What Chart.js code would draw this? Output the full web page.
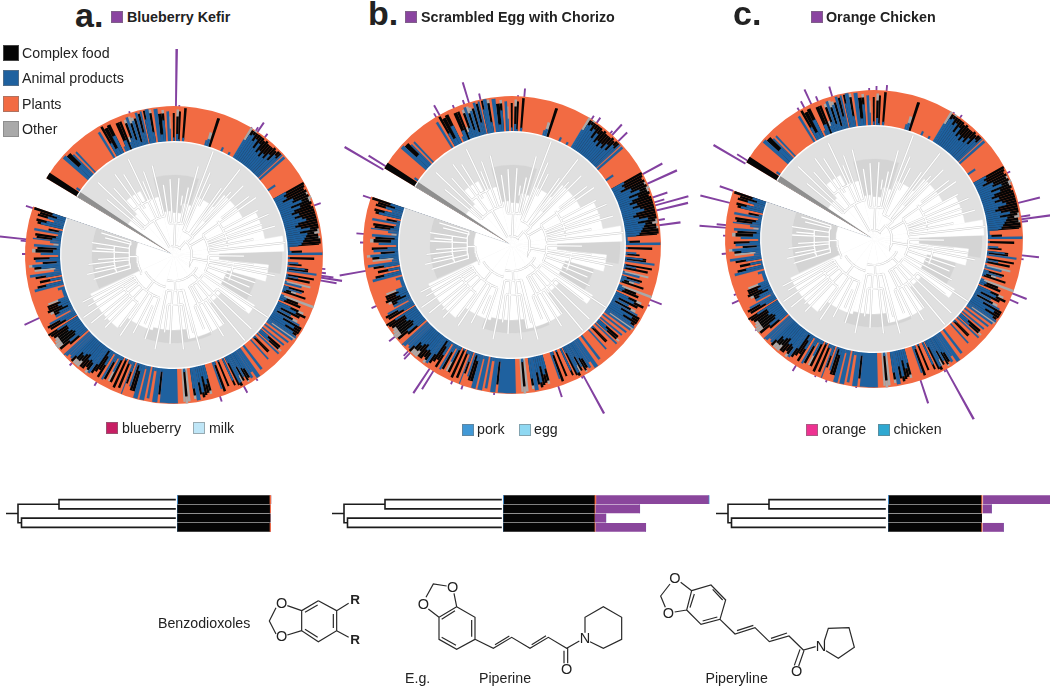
<!DOCTYPE html>
<html lang="en">
<head>
<meta charset="UTF-8">
<title>Food phylogeny panels</title>
<script src="https://cdn.jsdelivr.net/npm/chart.js"></script>
<style>
  html, body { margin: 0; background: #fff; }
  body { width: 1050px; height: 686px; position: relative; overflow: hidden; font-family: "Liberation Sans", Arial, sans-serif; color: #222; }
  canvas { position: absolute; }
  .t { position: absolute; white-space: nowrap; line-height: 1; transform: translateY(-50%); }
  .c { transform: translate(-50%, -50%); }
  .sw { position: absolute; box-sizing: border-box; border: 1px solid rgba(120,120,120,.55); }
</style>
</head>
<body>
<script>
// ring of each circular panel: bearing where a run starts and the radial share of blue, black, grey (rest is orange)
const ringFrom = [
  301,303.5,304,305,311,312.5,314.5,315.2,316,316.8,328,329,
  330,331,332.5,334,335,336,337.5,338.5,339.5,340.5,341.5,342.5,343.5,344.5,345.5,346.5,347.2,347.8,348.6,350,351,
  352,353.5,355,356,357,358,358.5,359.5,0.3,1,2,2.8,4,5,15.4,16.2,17.5,18.7,24,25,28,29,
  31,32,33,34,35,36,37,38,39,40,41,42,43,44,45,46,46.8,47.5,48,49,55,56,
  60.5,61.5,62.5,63.5,64.5,65.5,66.5,67.5,68.5,69.5,70.5,71.5,72.5,73.5,74.5,75.5,76.5,77.5,78.5,79.5,80.5,81.5,82.5,83.5,84.5,85.5,
  86,88,89,90,91,92,93.5,94.3,95,96,96.7,97.5,98.3,99.5,100.3,101,102,103,103.8,104.6,105.5,106.3,107,108,108.8,110,111,
  112,113,114,115,116,117,118,119,119.7,120.7,121.7,122.7,123.7,124.5,125.2,126,127,127.8,129,129.7,130.5,131.5,132.3,133,133.7,135,135.5,136.3,137.5,138.2,142,143,
  144.5,146,147,148,149,149.8,150.5,151.3,152,153,153.8,154.5,155.3,157,157.8,159,160,160.7,163,164.5,165.5,166.5,167.5,168.5,169.5,171,172,
  173.5,174.5,175.5,176.3,178.5,185.5,186.5,188.5,189.8,190.8,191.7,193.5,194.3,196,197.2,198.2,198.9,199.8,200.6,
  201,202,203,204,205,206,207,207.8,208.7,209.7,210.5,211.5,212.5,213.5,214.5,215.5,
  216.5,217.5,218.5,219.5,220.5,221.5,222.5,223.5,224.5,225.5,226.5,227.5,228,229,230,231,232,233,234,235,236,237,237.7,238.5,239.5,240.5,241.3,
  242,243,244,245,246,247,248,249,253,254,255,256,257,258,259,260,261,262,263,264,265,266,267,268,269,270,271,272.5,273.5,274.5,275.5,276.5,
  277,278,279,280,281,282,283,284,285,286,287,288,289
];
const ringBlue = [
  0,0,.12,0,.95,.45,.8,0,.8,0,.85,0,
  .4,.2,.55,0,.15,.3,0,.2,.3,.9,.2,.75,.1,.95,.35,.95,0,.7,.98,.3,0,
  .95,.2,.6,0,.85,.35,0,.1,0,.2,.05,0,.1,0,.15,.2,0,0,.12,0,.08,0,
  .6,.8,.85,.7,.8,.55,.75,.5,.6,.45,.6,.5,.7,.55,.8,.75,.95,0,.95,0,.25,0,
  .4,.3,.35,.2,.5,.45,.7,.35,.6,.4,.3,.5,.35,.55,.65,.4,.3,.45,.7,.4,.6,.55,.5,.45,.4,.3,
  .05,.1,.98,0,.05,0,.3,.05,0,.5,.05,.85,0,.05,.35,.05,0,.05,.5,0,.15,.55,.1,.05,0,.1,.2,
  .15,0,.4,.6,.15,.5,.1,.85,.35,.75,.5,.8,.95,.15,.9,0,.85,0,.8,0,.3,.4,0,.85,0,.1,.05,0,.75,0,.85,0,
  .98,.75,.9,.55,.5,.75,.4,.65,.85,.2,0,.7,0,.05,0,.1,.8,0,0,.4,.55,.3,.75,.45,.95,.6,0,
  0,.1,0,0,.98,.1,.98,.1,.9,0,.98,.1,.98,.2,.05,.7,0,.3,.98,
  .1,.1,0,.05,0,.1,.5,.1,.25,.85,.05,.45,.2,.05,.55,.9,
  .6,.55,.6,.45,.5,.6,.55,.75,.9,.85,.95,.98,0,.3,.6,.35,.3,.35,.45,.4,.4,.7,0,.35,.5,.8,.1,
  .55,.4,.1,.25,.35,.25,.3,.1,.2,0,.85,.5,.05,.35,0,.45,.9,.2,.15,.55,.8,.1,.7,.3,.05,.55,.2,.1,.75,.05,.3,.8,
  .25,.15,.1,.8,.1,0,.65,.5,.3,.5,.25,.4,0
];
const ringBlack = [
  1,0,0,0,0,.45,0,0,0,0,0,0,
  .55,.65,.35,0,0,.55,.85,0,.45,0,.5,0,.7,0,.55,0,0,.25,0,.55,0,
  0,.6,.2,0,0,0,0,.7,0,.5,.8,0,.85,0,0,0,.85,0,0,0,0,0,
  0,.15,.1,.25,.15,.4,.2,.4,.35,.45,.3,.4,.25,.35,.15,.2,0,0,0,0,0,0,
  .58,.65,.55,.75,.4,.5,.2,.55,.35,.5,.65,.45,.6,.4,.3,.55,.65,.5,.25,.5,.2,.35,.4,.5,.55,.6,
  0,.3,0,0,.7,0,0,.35,0,.1,.55,0,0,.75,0,.65,0,0,0,0,.45,0,.15,.65,0,0,.35,
  .5,0,.25,.3,.6,0,.5,0,.6,.2,.45,.12,0,0,0,0,0,0,0,0,.45,.35,0,0,0,.5,.55,0,0,0,0,0,
  0,0,0,.3,.4,0,.45,0,.1,.7,0,.15,0,.75,0,.8,0,0,0,.35,.25,.55,.15,.35,0,.2,0,
  0,.7,0,0,0,.65,0,0,0,0,0,0,0,.6,.75,0,0,.35,0,
  0,.75,0,.85,0,.7,0,0,.55,0,0,.4,.45,.7,.3,0,
  .25,.25,.3,.45,.25,.2,.25,.2,0,0,0,0,0,.35,.35,.45,.5,.45,.35,.5,.55,.3,0,.5,.4,0,0,
  0,.15,.45,.45,.3,.4,0,0,0,0,0,.25,0,.3,0,.3,0,0,0,.2,0,.4,0,.45,0,0,.5,.55,0,0,0,0,
  .45,.6,0,0,.3,0,.1,.3,0,.3,.5,.55,0
];
const ringGrey = [
  0,0,0,0,0,0,0,0,0,0,0,0,
  0,0,0,0,0,0,0,.15,.1,0,.2,.1,0,0,0,0,0,0,0,.1,0,
  0,0,.1,0,0,.35,0,0,0,.2,0,0,0,0,0,.2,0,0,0,0,0,0,
  .4,0,.05,0,0,0,0,0,0,0,0,0,0,0,0,0,0,0,0,0,0,0,
  0,0,0,0,.05,0,.1,.05,0,0,0,0,0,0,0,0,0,0,0,.05,.15,0,.05,0,0,0,
  0,0,0,0,0,0,0,0,0,0,0,0,0,0,0,0,0,.7,0,0,0,0,.15,0,0,.9,0,
  0,0,.15,0,0,0,.15,0,0,0,0,0,0,.8,0,0,0,0,0,0,0,.1,0,0,0,0,0,0,0,0,0,0,
  0,0,0,0,.05,0,0,.2,0,0,0,0,0,0,0,0,0,0,0,.1,0,0,0,0,0,.1,0,
  .95,.2,.95,0,0,0,0,0,0,0,0,0,0,0,0,0,0,0,0,
  0,0,0,0,0,0,.3,0,0,0,0,0,0,0,0,0,
  .1,0,0,0,.2,.15,.15,0,0,0,0,0,0,0,0,.2,.2,.15,.1,0,0,0,0,0,0,0,0,
  0,0,.1,0,0,0,.3,0,0,0,0,0,0,0,0,0,0,0,.6,0,.1,0,0,0,0,0,.1,0,0,.15,0,0,
  0,0,0,0,0,0,0,0,0,0,0,0,0
];

// purple spikes: bearing and radius of the tip
const spikeAngleA = [288,342.3,0.4,1.7,31,33,33.8,37.3,70.2,95,96.5,97.7,98.4,99.5,146,151.6,161.6,211,223,244.6,270,275,275.5];
const spikeTipA   = [156,150.5,206,150,149.5,153,160,153,155.6,152,153,161,170,165,151,156,154,153,152,165,152,154,175];
const spikeAngleB = [288,300,301.6,329,330.5,336.7,340.9,342.8,347.4,2,4.4,32,34.4,41,42,45.3,61.2,65.3,71,73,74.2,76.2,80,82,111.3,113.5,151,151.6,161.5,186.5,199,203.3,211.6,213.3,223,224,231.6,245.4,259.6,270.6,273.9];
const spikeTipB   = [157,194,169,153,160,152,153,170,155,150,157,153,155,152,163,161,171,181,164,159,183,181,155,170,161,150.5,192,151,160,151,153,152,170,178,157,155,156,154,175,152,156];
const spikeAngleC = [300,301.4,329.4,331.7,334.7,337.5,343.3,357.8,0.6,4.5,32,35,63.3,75.6,81,82,83,96,97.4,111.1,113.7,150.7,151,161.4,186.5,198.2,202.8,211.3,232,245.2,247.8,264,270.9,274,275,283.7,288.5];
const spikeTipC   = [186,161,152,156,165,154,159,151,153,154.5,150,152,152,171,158,178,155,166,151,164,158,206,151,173,150,151,150,155,150,156,151,153,151,175,158,179,163];

// white centre of the grey disc by bearing
const coreFrom = [301,304,318,332,345,358,10,20,40,62,80,88,96,106,122,128,145,170,196,218,245,289];
const coreR    = [4,55,72,60,44,42,52,62,78,92,110,45,95,55,95,60,85,75,78,92,38,0];

// darker grey band of the disc by bearing
const shadeFrom = [301,345,18,88,100,105,125,155,200,246,289];
const shadeR    = [0,80,0,108,0,85,0,88,0,82,0];

// tree branches: spokes (bearing, from, to) and connecting arcs (radius, from, to)
const treeAngle = [334.5,323.8,313.7,309.6,340,346.3,330, 351.4,357,3.7,12,15.3,2, 20.7,23.6,35.3,37.6,45,47,40, 55,66.7,74,83.7,70.7,78.8,60, 101.7,98.6,108.9,117.8,91,100, 123.6,133.7,140.4,148.6,154,135, 164.6,166,174.3,182.6,191.4,178, 199,207.6,213.7,223.5,230.6,235.4,242.7,239.2,218, 257.5,253.2,263.8,266.7,272.8,278.5,287,284,268, 318,328,337,8,27,42,52,62,97,113,128,144,158,170,187,203,217,227,260,275];
const treeFrom  = [40,40,40,40,40,40,9, 32,32,32,32,32,9, 26,26,26,26,26,18,9, 35,35,35,35,35,35,18, 35,35,35,35,35,18, 35,35,35,35,35,26, 36,36,36,36,36,26, 45,45,45,45,45,45,45,45,33, 45,45,45,45,45,45,45,45,37, 60,55,60,50,55,45,60,55,55,55,55,55,55,50,50,55,60,60,60,60];
const treeTo    = [106,100,105,87,89,92,40, 71,76,77,69,92,32, 111,90,82,108,98,26,18, 100,103,105,112,93,81,35, 103,95,86,88,70,35, 113,107,111,95,86,35, 98,80,95,89,96,36, 89,88,97,100,107,110,103,100,45, 89,84,86,76,82,83,76,71,45, 90,95,80,60,80,85,95,95,80,82,90,85,80,85,78,75,90,95,80,78];
const arcRadius = [9,18,26,33,37,40,32,26,35,35,35,36,45,45,60,55,60,55,50,60,60];
const arcFrom   = [345,40,118,195,240,309.6,351.4,20.7,55,91,123.6,164.6,199,253.2,318,52,97,128,170,217,253];
const arcTo     = [400,118,195,240,268,346.3,375.3,47,83.7,117.8,154,191.4,242.7,287,337,74,113,158,187,239,278];

// bottom strips: bar lengths per tip, top row first
const rowLabels = ['tip 1','tip 2','tip 3','tip 4'];
const stripStartA = [0.7,0,0,0];
const stripBlackA = [91.6,92.6,93,92.4];
const stripOrangeA = [1.5,1,0,1.2];
const stripGapA = [0,0,0,0];
const stripPurpleA = [0,0,0,0];
const stripEndA = [0,0,0,0];
const stripStartB = [0.7,0,0,0];
const stripBlackB = [90.6,91.3,91.3,91.3];
const stripOrangeB = [1.5,0.8,0.4,0.8];
const stripGapB = [0.6,0.6,0.6,0.6];
const stripPurpleB = [112,44,10.5,50];
const stripEndB = [0.7,0,0,0];
const stripStartC = [0.7,0,0,0];
const stripBlackC = [92.3,93,93.6,93];
const stripOrangeC = [1.2,1,0,1];
const stripGapC = [1.2,1,0,1];
const stripPurpleC = [70,8.5,0,20.5];
const stripEndC = [0,0,0,0];

// dendrogram in front of the strips, x is branch depth, y is the row
const dendroX = [0,12,null,12,12,null,12,53,null,53,53,null,53,169,null,53,169,null,12,15.5,null,15.5,15.5,null,15.5,169,null,15.5,169];
const dendroY = [1.5,1.5,null,.5,2.5,null,.5,.5,null,0,1,null,0,0,null,1,1,null,2.5,2.5,null,2,3,null,2,2,null,3,3];

// molecule outlines, in drawing units of the structure charts
const benzoX = [535,590,590,535,485,485,535,null,495,533,null,580,580,null,495,533,null,485,442,null,408,388,408,null,442,485,null,590,626,null,590,626];
const benzoY = [122,152,212,245,212,152,122,null,157,135,null,162,204,null,208,232,null,152,137,null,143,183,222,null,225,212,null,152,130,null,212,232];
const piperineX = [950,1005,1005,950,897,897,950,null,905,945,null,995,995,null,905,948,null,897,865,null,950,942,null,858,880,920,null,1005,1060,1115,1170,1225,1280,1318,null,1065,1108,null,1175,1218,null,1283,1283,null,1272,1272,null,1335,1335,1390,1445,1445,1390,1350];
const piperineY = [140,172,238,268,238,172,140,null,178,152,null,180,230,null,232,256,null,172,147,null,140,100,null,112,72,78,null,238,265,232,265,232,265,243,null,254,228,null,254,227,null,265,310,null,272,310,null,218,172,140,172,238,265,245];
const piperylineX = [155,213,257,240,183,140,155,null,150,163,null,218,248,null,188,232,null,155,122,null,140,104,null,90,62,76,null,240,285,345,388,447,490,527,null,291,340,null,393,441,null,492,476,null,480,463,null,553,565,627,643,595,558];
const piperylineY = [92,75,120,178,193,150,92,null,143,102,null,88,120,null,183,171,null,92,67,null,150,156,null,72,108,142,null,178,222,203,245,228,270,260,null,212,196,null,235,219,null,272,318,null,268,316,null,243,205,203,262,295,272];

const BLUE = '#1f619f', ORANGE = '#f26b43', BLACK = '#050505', GREY = '#a9a9a9', PURPLE = '#8341a0', DISC = '#e0e0e0', SHADE = '#d4d4d4';
const RING_IN = 114, RING_OUT = 149, START = 301;

function addCanvas(left, top, w, h) {
  const c = document.createElement('canvas');
  c.width = w; c.height = h;
  c.style.left = left + 'px'; c.style.top = top + 'px';
  c.style.width = w + 'px'; c.style.height = h + 'px';
  document.body.appendChild(c);
  return c;
}
function spans(from) {
  return from.map((a, i) => i === from.length - 1 ? (START - a + 360) % 360 : (from[i + 1] - a + 360) % 360);
}
function radial(data, span, color, edge) {
  return { data, angle: ctx => span[ctx.dataIndex], backgroundColor: color, borderColor: color, borderWidth: edge };
}
// each spike is one thin slice, with an empty slice up to the next one
function spikeSeries(angles, tips) {
  const order = angles.map((a, i) => [(a - START + 360) % 360, tips[i]]).sort((p, q) => p[0] - q[0]);
  const width = 0.7, data = [], span = [];
  let at = 0;
  order.forEach(([a, r]) => {
    data.push(0); span.push(Math.max(a - at, 0.01));
    data.push(r); span.push(width);
    at = Math.max(a, at) + width;
  });
  data.push(0); span.push(Math.max(360 - at, 0.01));
  return { data, span };
}
function points(xs, ys) {
  return xs.map((x, i) => x === null ? { x: NaN, y: NaN } : { x, y: ys[i] });
}
function treePoints() {
  const pts = [];
  const put = (a, r) => pts.push({ x: r * Math.sin(a * Math.PI / 180), y: r * Math.cos(a * Math.PI / 180) });
  treeAngle.forEach((a, i) => { put(a, treeFrom[i]); put(a, treeTo[i]); pts.push({ x: NaN, y: NaN }); });
  arcRadius.forEach((r, i) => {
    for (let a = arcFrom[i]; a < arcTo[i]; a += 3) put(a, r);
    put(arcTo[i], r);
    pts.push({ x: NaN, y: NaN });
  });
  return pts;
}
const quiet = { animation: false, responsive: false, maintainAspectRatio: false, events: [], layout: { padding: 0 }, plugins: { legend: { display: false }, tooltip: { enabled: false } } };

function drawPanel(cx, cy, spikeAngles, spikeTips) {
  const R = 210;
  const ringSpan = spans(ringFrom);
  const spike = spikeSeries(spikeAngles, spikeTips);
  const w = RING_OUT - RING_IN;
  const blue = ringBlue.map(b => b > 0 ? RING_IN + b * w : 0);
  const black = ringBlack.map((k, i) => k > 0 ? RING_IN + Math.min(ringBlue[i] + k, 1) * w : 0);
  const grey = ringGrey.map((g, i) => g > 0 ? RING_IN + Math.min(ringBlue[i] + ringBlack[i] + g, 1) * w : 0);
  new Chart(addCanvas(cx - R, cy - R, R * 2, R * 2), {
    type: 'polarArea',
    data: {
      labels: ringFrom,
      datasets: [
        radial(coreR, spans(coreFrom), '#fff', 0.4),
        radial(shadeR, spans(shadeFrom), SHADE, 0.3),
        radial([112.5, 112.5, 0], [3, 345, 12], ['#8f8f8f', DISC, DISC], 0.3),
        radial([RING_IN, 0], [348, 12], '#fff', 0),
        radial(blue, ringSpan, BLUE, 0.15),
        radial(black, ringSpan, BLACK, 0),
        radial(grey, ringSpan, GREY, 0),
        radial([RING_OUT, 0], [348, 12], ORANGE, 0),
        radial([0, RING_OUT], [348, 12], '#fff', 0),
        radial(spike.data, spike.span, PURPLE, 0)
      ]
    },
    options: { ...quiet, scales: { r: { display: false, min: 0, max: R, startAngle: START } } }
  });
  const tree = treePoints();
  new Chart(addCanvas(cx - R, cy - R, R * 2, R * 2), {
    type: 'scatter',
    data: { datasets: [
      { data: tree, showLine: true, pointRadius: 0, borderColor: '#fff', borderWidth: 1.3 },
      { data: tree, showLine: true, pointRadius: 0, borderColor: '#cccccc', borderWidth: 2.2 }
    ] },
    options: { ...quiet, scales: {
      x: { display: false, type: 'linear', min: -R, max: R },
      y: { display: false, type: 'linear', min: -R, max: R }
    } }
  });
}

function drawStrip(barLeft, rootLeft, start, black, orange, gap, purple, end) {
  const top = 495.1, h = 37;
  const bar = (data, color) => ({ data, backgroundColor: color, barThickness: 8.2, borderWidth: 0 });
  new Chart(addCanvas(barLeft, top, 220, h), {
    type: 'bar',
    data: { labels: rowLabels, datasets: [
      bar(start, '#3f86c4'), bar(black, BLACK), bar(orange, ORANGE),
      bar(gap, 'rgba(0,0,0,0)'), bar(purple, '#8a469c'), bar(end, '#3f9ad0')
    ] },
    options: { ...quiet, indexAxis: 'y', scales: {
      x: { display: false, stacked: true, min: 0, max: 220 },
      y: { display: false, stacked: true }
    } }
  });
  new Chart(addCanvas(rootLeft, top, 180, h), {
    type: 'scatter',
    data: { datasets: [{ data: points(dendroX, dendroY), showLine: true, pointRadius: 0, borderColor: '#1c1c1c', borderWidth: 1.6, borderCapStyle: 'square' }] },
    options: { ...quiet, scales: {
      x: { display: false, type: 'linear', min: 0, max: 180 },
      y: { display: false, type: 'linear', min: -0.5, max: 3.5, reverse: true }
    } }
  });
}

function drawMolecules(left, top, w, h, sets) {
  new Chart(addCanvas(left, top, w, h), {
    type: 'scatter',
    data: { datasets: sets.map(s => ({ data: points(s[0], s[1]), showLine: true, pointRadius: 0, borderColor: '#2a2a2a', borderWidth: 1.2 })) },
    options: { ...quiet, scales: {
      x: { display: false, type: 'linear', min: 0, max: w * 3 },
      y: { display: false, type: 'linear', min: 0, max: h * 3, reverse: true }
    } }
  });
}

function text(str, x, y, size, opts) {
  const d = document.createElement('div');
  d.className = 't' + (opts && opts.center ? ' c' : '');
  d.textContent = str;
  d.style.left = x + 'px'; d.style.top = y + 'px'; d.style.fontSize = size + 'px';
  if (opts && opts.bold) d.style.fontWeight = 'bold';
  document.body.appendChild(d);
}
function swatch(x, y, size, color) {
  const d = document.createElement('div');
  d.className = 'sw';
  d.style.left = x + 'px'; d.style.top = y + 'px';
  d.style.width = size + 'px'; d.style.height = size + 'px';
  d.style.background = color;
  document.body.appendChild(d);
}

drawPanel(174, 254.5, spikeAngleA, spikeTipA);
drawPanel(512, 245, spikeAngleB, spikeTipB);
drawPanel(874, 239, spikeAngleC, spikeTipC);

drawStrip(177, 6.3, stripStartA, stripBlackA, stripOrangeA, stripGapA, stripPurpleA, stripEndA);
drawStrip(502.5, 332, stripStartB, stripBlackB, stripOrangeB, stripGapB, stripPurpleB, stripEndB);
drawStrip(888, 716.2, stripStartC, stripBlackC, stripOrangeC, stripGapC, stripPurpleC, stripEndC);

drawMolecules(140, 560, 500, 126, [[benzoX, benzoY], [piperineX, piperineY]]);
drawMolecules(640, 560, 280, 126, [[piperylineX, piperylineY]]);

// panel titles
text('a.', 75, 15, 34, { bold: true }); swatch(111, 11, 12, '#8a44a0'); text('Blueberry Kefir', 127, 17, 14.3, { bold: true });
text('b.', 368, 13, 34, { bold: true }); swatch(405, 11, 12, '#8a44a0'); text('Scrambled Egg with Chorizo', 421, 17, 14.3, { bold: true });
text('c.', 733, 13, 34, { bold: true }); swatch(811, 11, 12, '#8a44a0'); text('Orange Chicken', 826, 17, 14.3, { bold: true });

// category legend
swatch(3, 44.5, 16, BLACK); text('Complex food', 22, 52.5, 14.2);
swatch(3, 70, 16, BLUE); text('Animal products', 22, 78, 14.2);
swatch(3, 95.5, 16, ORANGE); text('Plants', 22, 103.5, 14.2);
swatch(3, 121, 16, GREY); text('Other', 22, 129, 14.2);

// ingredient legends
swatch(106, 422, 12, '#c81e64'); text('blueberry', 122, 428, 14.2);
swatch(193, 422, 12, '#bfe6f7'); text('milk', 209, 428, 14.2);
swatch(461.5, 424, 12, '#4299d6'); text('pork', 477, 428.5, 14.2);
swatch(518.5, 424, 12, '#8fd8f2'); text('egg', 534, 428.5, 14.2);
swatch(806, 424, 12, '#ee3291'); text('orange', 822, 428.5, 14.2);
swatch(878, 424, 12, '#2fa8d1'); text('chicken', 893.5, 428.5, 14.2);

// atom labels and captions under the molecules
text('O', 281.7, 602.7, 14.5, { center: true });
text('O', 281.7, 636, 14.5, { center: true });
text('R', 355, 599.5, 13.5, { center: true, bold: true });
text('R', 355, 640, 13.5, { center: true, bold: true });
text('O', 452.7, 586.7, 14.5, { center: true });
text('O', 423.3, 604.3, 14.5, { center: true });
text('O', 566.7, 668.5, 14.5, { center: true });
text('N', 585, 638.3, 14.5, { center: true });
text('O', 675, 578.3, 14.5, { center: true });
text('O', 668.3, 612.7, 14.5, { center: true });
text('O', 796.7, 671, 14.5, { center: true });
text('N', 821, 646, 14.5, { center: true });
text('Benzodioxoles', 158, 622.7, 14.2);
text('E.g.', 405, 678, 14.2);
text('Piperine', 479, 678, 14.2);
text('Piperyline', 705.5, 677.5, 14.2);
</script>
</body>
</html>
